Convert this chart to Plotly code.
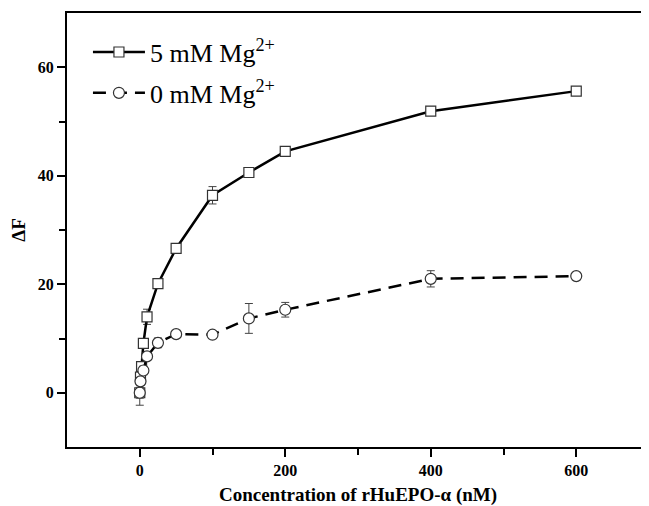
import plotly.graph_objects as go

# Data
conc_mg5 = [0, 1, 2.5, 5, 10, 25, 50, 100, 150, 200, 400, 600]
dF_mg5 = [0, 2.9, 4.8, 9.1, 14.0, 20.1, 26.6, 36.4, 40.6, 44.5, 51.9, 55.6]
err_mg5 = [2.3, 0.5, 0.5, 0.5, 1.4, 0.3, 0.3, 1.6, 0.3, 0.3, 0.8, 0.3]

conc_mg0 = [0, 1, 5, 10, 25, 50, 100, 150, 200, 400, 600]
dF_mg0 = [0, 2.1, 4.1, 6.7, 9.2, 10.8, 10.7, 13.7, 15.3, 21.0, 21.5]
err_mg0 = [1.0, 0.5, 0.8, 0.5, 0.9, 0.4, 0.4, 2.75, 1.35, 1.5, 0.5]

x_ticks = [0, 200, 400, 600]
y_ticks = [0, 20, 40, 60]

FONT = "Liberation Serif"

fig = go.Figure()
fig.add_trace(go.Scatter(
    x=conc_mg5, y=dF_mg5, mode="lines+markers",
    name="5 mM Mg<sup>2+</sup>", legendgroup="a",
    line=dict(color="black", width=2.5),
    marker=dict(symbol="square", size=10, color="white",
                line=dict(color="#333333", width=1.2)),
    error_y=dict(type="data", array=err_mg5, visible=True,
                 color="#444444", thickness=1, width=4),
))
fig.add_trace(go.Scatter(
    x=conc_mg0, y=dF_mg0, mode="lines+markers",
    name="0 mM Mg<sup>2+</sup>", legendgroup="b",
    line=dict(color="black", width=2.5, dash="13px,8px"),
    marker=dict(symbol="circle", size=11, color="white",
                line=dict(color="#333333", width=1.2)),
    error_y=dict(type="data", array=err_mg0, visible=True,
                 color="#444444", thickness=1, width=4),
))

# page body has an 8px margin, so the figure is sized to fit the window
fig.update_layout(
    width=642, height=498,
    margin=dict(l=59, r=1, t=5, b=59),
    paper_bgcolor="white", plot_bgcolor="white",
    showlegend=True,
    legend=dict(x=0.036, y=0.964, xanchor="left", yanchor="top",
                bgcolor="rgba(0,0,0,0)",
                font=dict(family=FONT, size=26, color="black"),
                tracegroupgap=4, itemwidth=52),
    font=dict(family=FONT, color="black"),
)
fig.update_xaxes(
    range=[-100, 700], tickvals=x_ticks, automargin=False,
    showline=True, linecolor="black", linewidth=2, mirror=True,
    showgrid=False, zeroline=False,
    ticks="outside", ticklen=8, tickwidth=1.5, tickcolor="black",
    minor=dict(tickvals=[100, 300, 500], ticks="outside", ticklen=6,
               tickwidth=1.5, tickcolor="black", showgrid=False),
    tickfont=dict(family=FONT, size=16, color="black", weight="bold"),
    title=dict(text="Concentration of rHuEPO-α (nM)",
               font=dict(family=FONT, size=19, color="black", weight="bold"),
               standoff=9),
)
fig.update_yaxes(
    range=[-10, 70], tickvals=y_ticks, automargin=False,
    showline=True, linecolor="black", linewidth=2,
    showgrid=False, zeroline=False,
    ticks="outside", ticklen=8, tickwidth=1.5, tickcolor="black",
    minor=dict(tickvals=[10, 30, 50], ticks="outside", ticklen=6,
               tickwidth=1.5, tickcolor="black", showgrid=False),
    tickfont=dict(family=FONT, size=16, color="black", weight="bold"),
    title=dict(text="ΔF",
               font=dict(family=FONT, size=19, color="black", weight="bold"),
               standoff=14),
)

fig.write_html("out.html")
